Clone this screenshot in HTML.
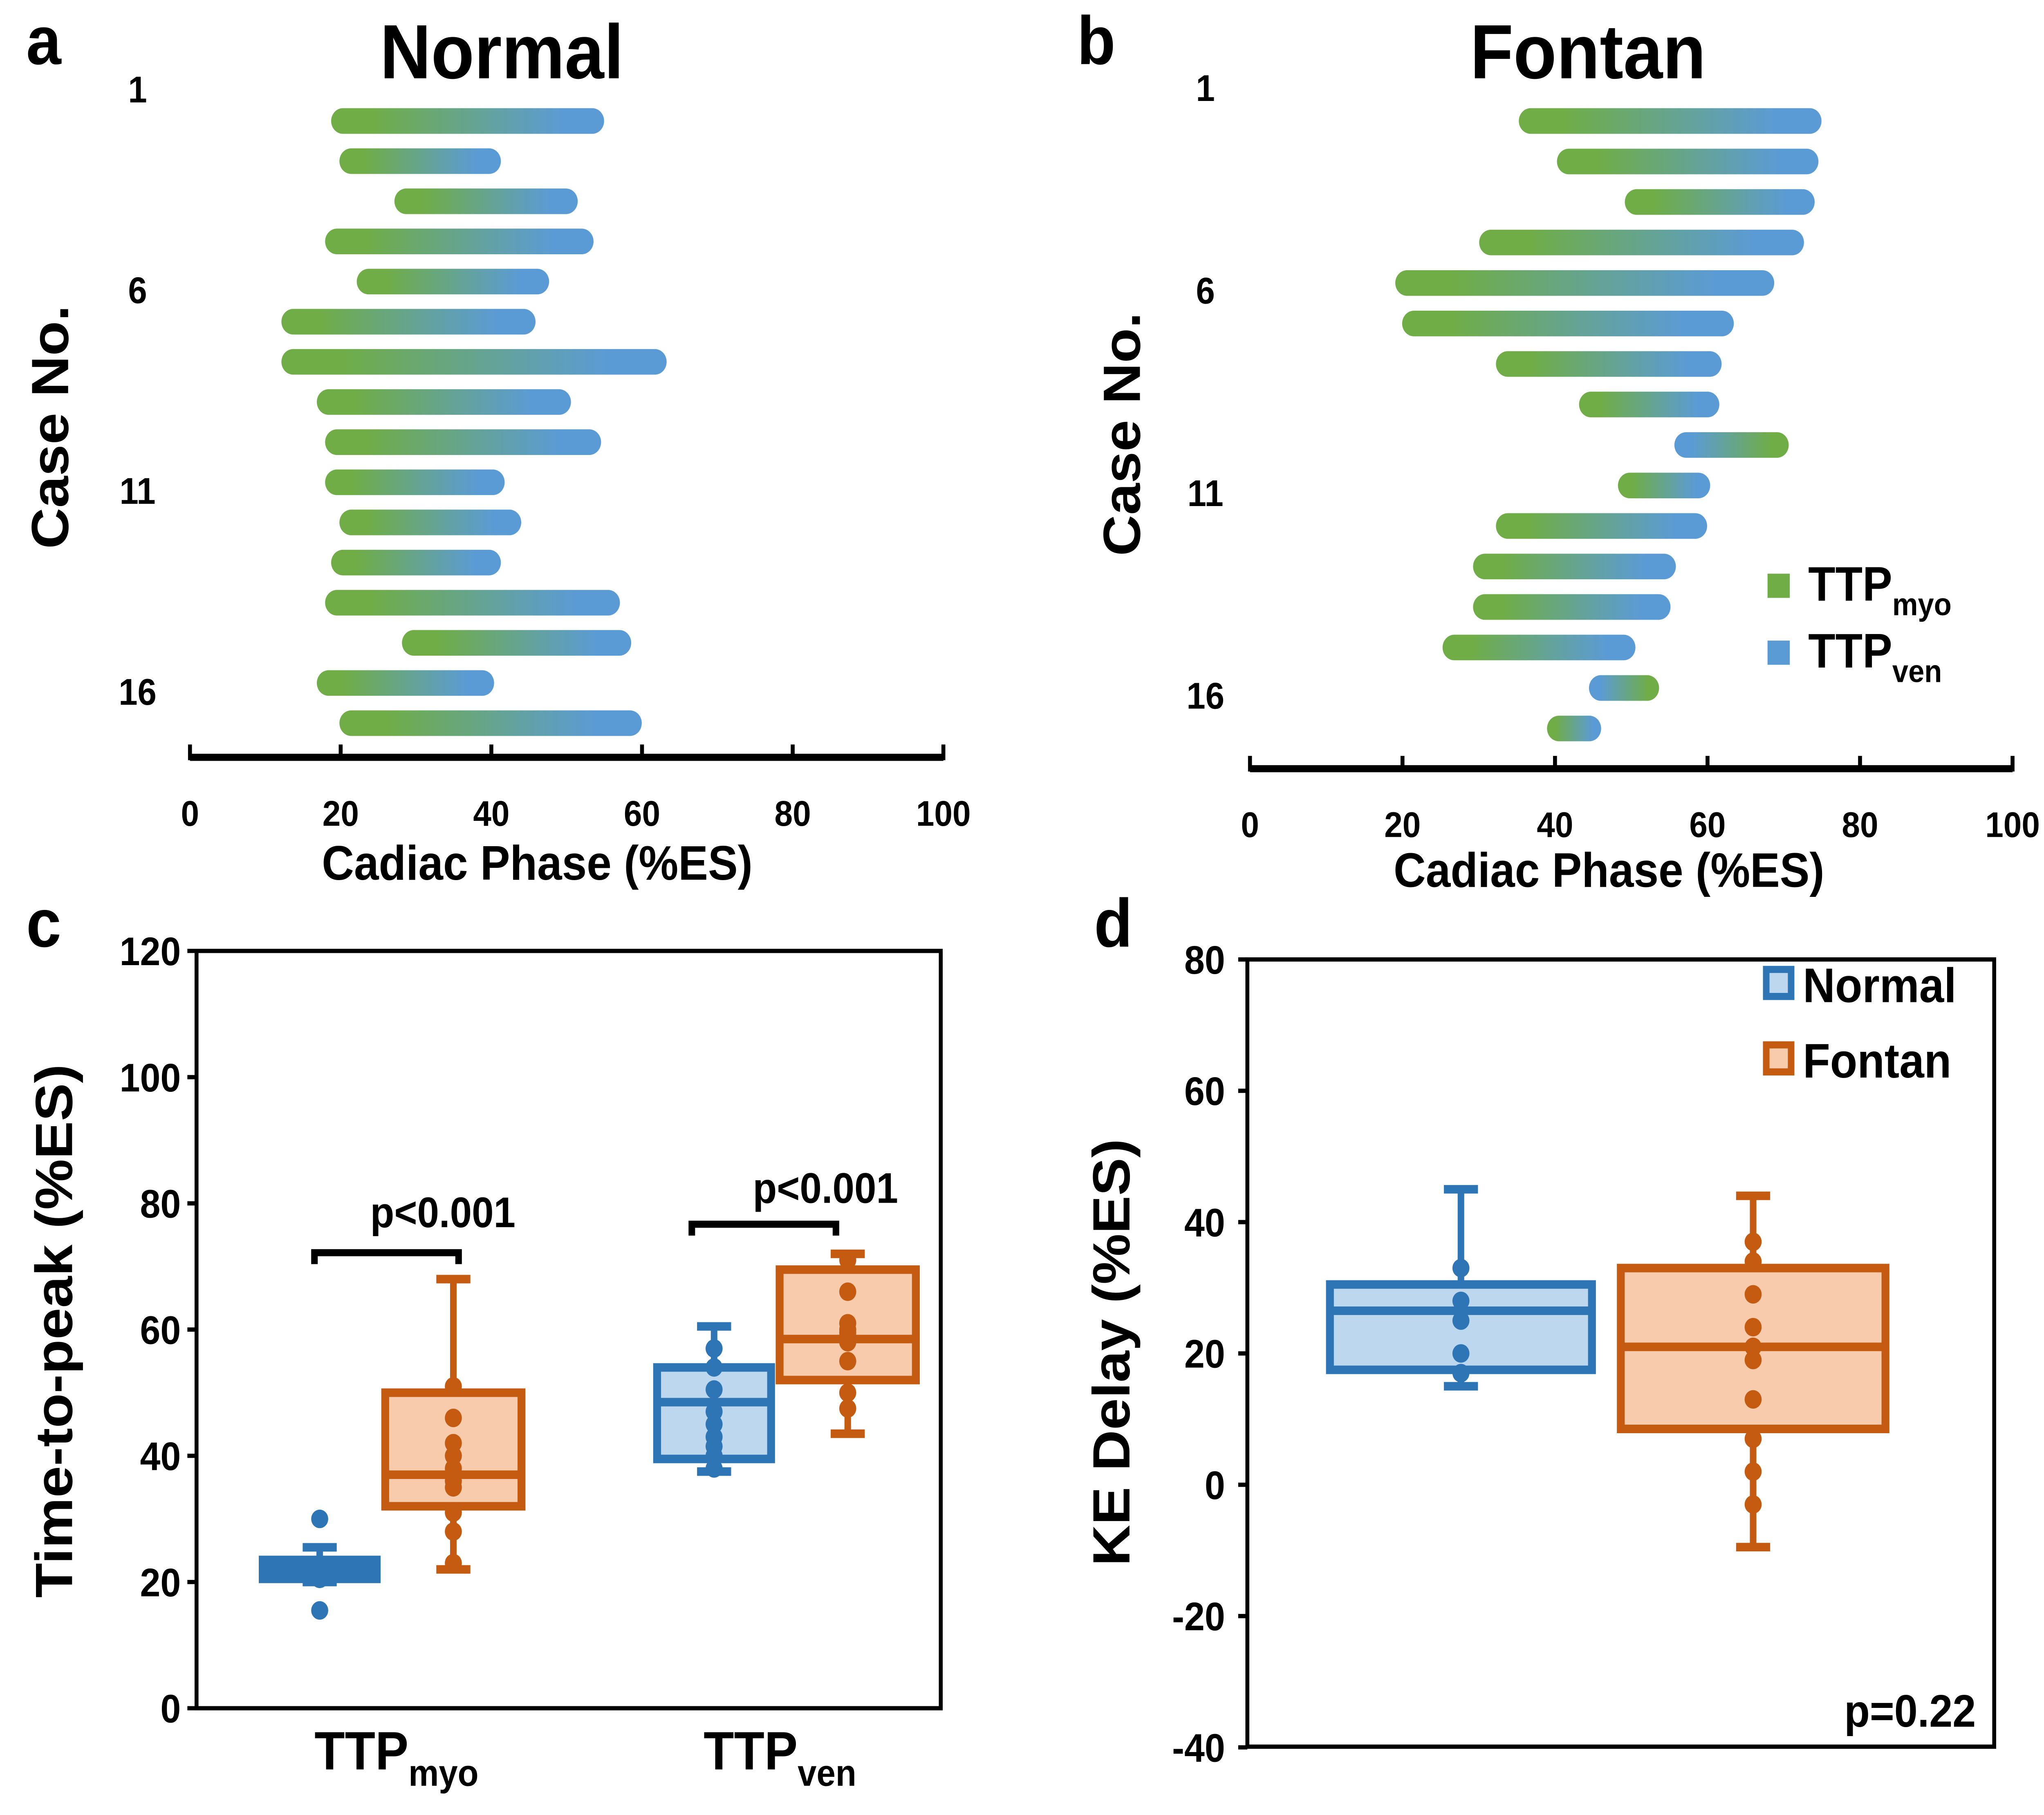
<!DOCTYPE html>
<html><head><meta charset="utf-8"><style>
html,body{margin:0;padding:0;background:#fff;overflow:hidden;width:100%;height:100%}
svg{display:block;position:fixed;left:0;top:0;width:100vw;height:100vh}
text{font-family:"Liberation Sans",sans-serif;font-weight:bold;fill:#000}
</style></head><body>
<svg id="fig" viewBox="0 0 1560 1275" preserveAspectRatio="none" xmlns="http://www.w3.org/2000/svg">
<defs>
<linearGradient id="gmv" x1="0" x2="1" y1="0" y2="0"><stop offset="0.15" stop-color="#70ad47"/><stop offset="0.85" stop-color="#5b9bd5"/></linearGradient>
<linearGradient id="gvm" x1="0" x2="1" y1="0" y2="0"><stop offset="0.15" stop-color="#5b9bd5"/><stop offset="0.85" stop-color="#70ad47"/></linearGradient>
</defs>
<g id="root"></g>
</svg>
<script>
// Panel a (Normal) TTP values
const normMyo=[20.3,21.4,28.7,19.5,23.7,13.7,13.7,18.4,19.5,19.5,21.4,20.3,19.5,29.7,18.4,21.4];
const normVen=[53.4,39.7,49.9,52.0,46.1,44.3,61.7,49.0,53.0,40.2,42.4,39.7,55.5,57.0,38.8,58.4];
// Panel b (Fontan) TTP values
const fonMyo=[36.8,41.8,50.7,31.6,20.6,21.5,33.8,44.7,69.1,49.8,33.8,30.8,30.8,26.8,52.1,40.5];
const fonVen=[73.4,73.0,72.5,71.1,67.2,61.9,60.3,60.0,57.2,58.8,58.4,54.3,53.6,49.0,46.0,44.5];
const xTicks=[0,20,40,60,80,100];
// Panel c box stats [lowWhisker,q1,median,q3,highWhisker]
const cGroups=["TTPmyo","TTPven"];
const cNormStats=[[20,20.5,22,23.5,25.5],[37.5,39.5,48.5,54,60.5]];
const cFonStats=[[22,32,37,50,68],[43.5,52,58.5,69.5,72]];
const cNormPts=[[30,22,21,20.5,15.5],[57,54,50.5,47,45,43,41.5,40,38]];
const cFonPts=[[51,46,42,40,38,36,35,31,28,23],[71,66,61,60,59.5,58,55,50,47.5]];
const cTicks=[0,20,40,60,80,100,120];
// Panel d
const dNormStats=[15,17.5,26.5,30.5,45];
const dFonStats=[-9.5,8.5,21,33,44];
const dNormPts=[33,28,25,20,17];
const dFonPts=[37,34,29,24,21,19,13,7,2,-3];
const dTicks=[-40,-20,0,20,40,60,80];

const NS="http://www.w3.org/2000/svg";
const root=document.getElementById('root');
function mk(tag,attrs,parent,txt){const e=document.createElementNS(NS,tag);for(const k in attrs)e.setAttribute(k,attrs[k]);if(txt!==undefined)e.textContent=txt;(parent||root).appendChild(e);return e;}
function txt(x,y,s,size,anchor,name,rot){const t=mk('text',{x:x,y:y,'font-size':size,'text-anchor':anchor||'middle'},root,s);


if(rot)t.setAttribute('transform','rotate(-90 '+x+' '+y+')');return t;}

txt(20,45,'a',48,'start','panel-label-a');
txt(822,45,'b',48,'start','panel-label-b');
txt(20,665,'c',48,'start','panel-label-c');
txt(835,665,'d',48,'start','panel-label-d');
txt(383,55,'Normal',54,'middle','title-normal');
txt(1212,55,'Fontan',54,'middle','title-fontan');

function ganttPanel(x0,x1,axisY,y0,dy,myo,ven,pfx,labelX,labelOff,titleX,titleY,ylabX,ylabY){
  const sx=v=>x0+(x1-x0)*v/100;
  for(let i=0;i<myo.length;i++){
    const a=Math.min(myo[i],ven[i]),b=Math.max(myo[i],ven[i]);
    const y=y0+i*dy;
    const r=mk('rect',{x:sx(a)-9,y:y-9,width:sx(b)-sx(a)+18,height:18,rx:9,ry:9,fill:myo[i]<=ven[i]?'url(#gmv)':'url(#gvm)'});
    
    
  }
  [1,6,11,16].forEach(c=>txt(labelX,y0+(c-1)*dy-labelOff,String(c),26,'middle',pfx+'-case-label-'+c));
  const ax=mk('line',{x1:x0,x2:x1,y1:axisY,y2:axisY,stroke:'#000','stroke-width':5});
  
  
  xTicks.forEach(t=>{
    const tk=mk('line',{x1:sx(t),x2:sx(t),y1:axisY-9,y2:axisY+2,stroke:'#000','stroke-width':3});
    
    
    txt(sx(t),axisY+48,String(t),25,'middle',pfx+'-x-tick-label-'+t);
  });
  txt(titleX,titleY,'Cadiac Phase (%ES)',34,'middle',pfx+'-x-axis-title');
  txt(ylabX,ylabY,'Case No.',40,'middle',pfx+'-y-axis-title',true);
}
ganttPanel(145,720,532,85,28.2,normMyo,normVen,'normal',105,13,410,618,52,300);
ganttPanel(954,1536,540,85,28.45,fonMyo,fonVen,'fontan',920,14,1228,623,870,305);

let r=mk('rect',{x:1349,y:403,width:17,height:17,fill:'#70ad47'});


r=mk('rect',{x:1349,y:450,width:17,height:17,fill:'#5b9bd5'});


function ttp(x,y,sub,size,subsize,name,anchor){const t=mk('text',{x:x,y:y,'font-size':size,'text-anchor':anchor||'start'});
 mk('tspan',{},t,'TTP');mk('tspan',{'font-size':subsize,dy:size*0.3},t,sub);return t;}
ttp(1380,422,'myo',34,22,'legend-entry-myo');
ttp(1380,469,'ven',34,22,'legend-entry-ven');

const BLUE='#2e75b6',BLUEF='#bdd7ee',OR='#c55a11',ORF='#f8cbad';
function boxplot(cx,w,st,pts,sy,col,fill,name){
  const g=mk('g',{});
  mk('line',{x1:cx,x2:cx,y1:sy(st[0]),y2:sy(st[4]),stroke:col,'stroke-width':5},g);
  mk('line',{x1:cx-13,x2:cx+13,y1:sy(st[0]),y2:sy(st[0]),stroke:col,'stroke-width':6},g);
  mk('line',{x1:cx-13,x2:cx+13,y1:sy(st[4]),y2:sy(st[4]),stroke:col,'stroke-width':6},g);
  mk('rect',{x:cx-w/2,y:sy(st[3]),width:w,height:Math.max(sy(st[1])-sy(st[3]),0.1),fill:fill,stroke:col,'stroke-width':6},g);
  mk('line',{x1:cx-w/2,x2:cx+w/2,y1:sy(st[2]),y2:sy(st[2]),stroke:col,'stroke-width':6},g);
  pts.forEach(p=>{const c=mk('circle',{cx:cx,cy:sy(p),r:6.5,fill:col},g);
    
    });
}
const cY=v=>1200-(1200-668)*v/120;
let fr=mk('rect',{x:150,y:668,width:568,height:532,fill:'none',stroke:'#000','stroke-width':3});


cTicks.forEach(t=>{const l=mk('line',{x1:143,x2:150,y1:cY(t),y2:cY(t),stroke:'#000','stroke-width':3});
 
 
 txt(138,cY(t)+10,String(t),28,'end','c-y-tick-label-'+t);});
txt(55,935,'Time-to-peak (%ES)',40,'middle','c-y-axis-title',true);
const cCenters=[272,573];
cGroups.forEach((g,i)=>{
  boxplot(cCenters[i]-28,87,cNormStats[i],cNormPts[i],cY,BLUE,i==0?BLUE:BLUEF,'c-normal-box-'+g);
  boxplot(cCenters[i]+74,104,cFonStats[i],cFonPts[i],cY,OR,ORF,'c-fontan-box-'+g);
});
ttp(240,1243,'myo',38,26,'c-x-label-myo');
ttp(537,1243,'ven',38,26,'c-x-label-ven');
function bracket(x1,x2,y,tx,ty,name){const p=mk('path',{d:`M${x1} ${y+8}V${y}H${x2}V${y+8}`,fill:'none',stroke:'#000','stroke-width':5});
 
 
 txt(tx,ty,'p<0.001',30,'middle',name+'-label');}
bracket(240,350,880,338,862,'c-bracket-myo');
bracket(528,638,860,630,845,'c-bracket-ven');

const dY=v=>1043-(1043-674)*v/80;
fr=mk('rect',{x:952,y:674,width:570,height:553,fill:'none',stroke:'#000','stroke-width':3});


dTicks.forEach(t=>{const l=mk('line',{x1:945,x2:952,y1:dY(t),y2:dY(t),stroke:'#000','stroke-width':3});
 
 
 txt(935,dY(t)+10,String(t),28,'end','d-y-tick-label-'+t);});
txt(862,950,'KE Delay (%ES)',40,'middle','d-y-axis-title',true);
boxplot(1115,200,dNormStats,dNormPts,dY,BLUE,BLUEF,'d-normal-box');
boxplot(1338,202,dFonStats,dFonPts,dY,OR,ORF,'d-fontan-box');
r=mk('rect',{x:1348,y:681,width:19,height:19,fill:BLUEF,stroke:BLUE,'stroke-width':5});


r=mk('rect',{x:1348,y:734,width:19,height:19,fill:ORF,stroke:OR,'stroke-width':5});


txt(1376,704,'Normal',34,'start','legend-entry-normal');
txt(1376,757,'Fontan',34,'start','legend-entry-fontan');
txt(1508,1213,'p=0.22',32,'end','d-p-value');
</script>
</body></html>
